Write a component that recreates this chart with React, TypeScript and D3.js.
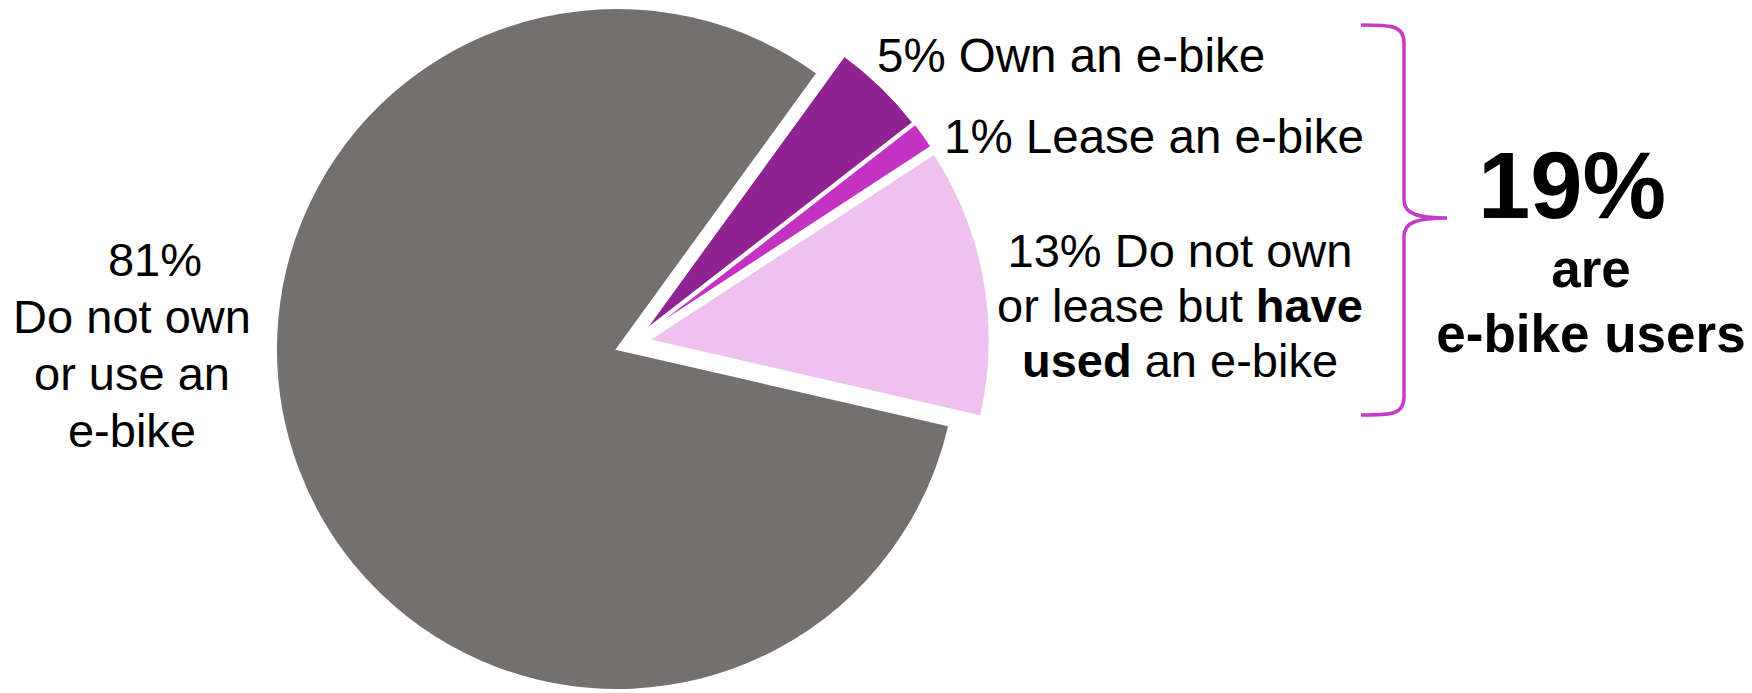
import React from 'react';
import * as d3 from 'd3';

// slice data, clockwise from the first slice
const categories = ['Own an e-bike', 'Lease an e-bike', 'Have used an e-bike', 'Do not own or use an e-bike'];
const shares = [4.5, 1.3, 12.8, 81.4];
const percentLabels = ['5%', '1%', '13%', '81%'];
const totalLabel = '19%';

const COLORS = ['#8e2391', '#c432c4', '#eec1ee', '#757070'];
// explosion of each slice: distance (px) and direction (deg, clockwise from 12 o'clock)
const EXPLODE_DIST = [32, 33, 33, 0];
const EXPLODE_DIR = [57, 61, 74, 0];

const WIDTH = 1752;
const HEIGHT = 693;
const CX = 617;
const CY = 349;
const RADIUS = 341;
const START_DEG = 36;

const FONT = '"Liberation Sans", Arial, Helvetica, sans-serif';

interface Slice {
  name: string;
  value: number;
}

const App: React.FC = () => {
  const data: Slice[] = categories.map((name, i) => ({ name, value: shares[i] }));

  const start = (START_DEG * Math.PI) / 180;
  const pie = d3.pie<Slice>()
    .sort(null)
    .value(d => d.value)
    .startAngle(start)
    .endAngle(start + 2 * Math.PI);

  const arc = d3.arc<d3.PieArcDatum<Slice>>()
    .innerRadius(0)
    .outerRadius(RADIUS);

  const arcs = pie(data);

  const offset = (i: number) => {
    const a = (EXPLODE_DIR[i] * Math.PI) / 180;
    return [EXPLODE_DIST[i] * Math.sin(a), -EXPLODE_DIST[i] * Math.cos(a)];
  };

  // curly brace to the right of the labels
  const bx0 = 1361;
  const bx1 = 1404;
  const bxt = 1447;
  const by0 = 25;
  const bym = 218;
  const by1 = 415;
  const brace = [
    `M${bx0},${by0}`,
    `C${bx0 + 30},${by0} ${bx1},${by0} ${bx1},${by0 + 18}`,
    `L${bx1},${bym - 18}`,
    `C${bx1},${bym - 4} ${bx1 + 14},${bym} ${bxt},${bym}`,
    `C${bx1 + 14},${bym} ${bx1},${bym + 4} ${bx1},${bym + 18}`,
    `L${bx1},${by1 - 18}`,
    `C${bx1},${by1} ${bx0 + 30},${by1} ${bx0},${by1}`,
  ].join(' ');

  const fs = 47;

  return (
    <svg
      width={WIDTH}
      height={HEIGHT}
      style={{ position: 'absolute', left: 0, top: 0, background: '#fff' }}
      fontFamily={FONT}
    >
      <g>
        {arcs.map((d, i) => {
          const [dx, dy] = offset(i);
          return (
            <path
              key={d.data.name}
              d={arc(d) || ''}
              transform={`translate(${CX + dx},${CY + dy})`}
              fill={COLORS[i]}
              stroke="#fff"
              strokeWidth={2}
              strokeLinejoin="miter"
            />
          );
        })}
      </g>

      {/* left label */}
      <text fontSize={fs} fill="#000" textAnchor="middle">
        <tspan x={155} y={276}>{percentLabels[3]}</tspan>
        <tspan x={132} y={333}>Do not own</tspan>
        <tspan x={132} y={390}>or use an</tspan>
        <tspan x={132} y={447}>e-bike</tspan>
      </text>

      {/* right labels */}
      <text fontSize={fs + 0.5} fill="#000" x={877} y={72}>
        {percentLabels[0]} Own an e-bike
      </text>
      <text fontSize={fs + 0.5} fill="#000" x={944} y={153}>
        {percentLabels[1]} Lease an e-bike
      </text>
      <text fontSize={fs} fill="#000" textAnchor="middle">
        <tspan x={1180} y={267}>{percentLabels[2]} Do not own</tspan>
        <tspan x={1180} y={322}>
          or lease but <tspan fontWeight="bold">have</tspan>
        </tspan>
        <tspan x={1180} y={377}>
          <tspan fontWeight="bold">used</tspan> an e-bike
        </tspan>
      </text>

      <path d={brace} fill="none" stroke="#c73cc6" strokeWidth={3.5} />

      <text fontSize={94} fontWeight="bold" fill="#000" textAnchor="middle" x={1572} y={218}>
        {totalLabel}
      </text>
      <text fontSize={53} fontWeight="bold" fill="#000" textAnchor="middle">
        <tspan x={1591} y={287}>are</tspan>
        <tspan x={1591} y={352}>e-bike users</tspan>
      </text>
    </svg>
  );
};

export default App;
